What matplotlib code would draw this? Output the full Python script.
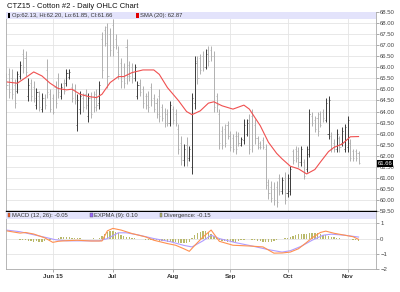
import numpy as np
import matplotlib.pyplot as plt
import matplotlib.transforms as mtransforms
from matplotlib.patches import Rectangle

plt.rcParams['font.family'] = ['Liberation Sans', 'DejaVu Sans']

# OHLC hodnoty
opens = [65.60, 65.70, 65.50, 65.20, 64.95, 65.60, 66.60, 66.40, 64.70, 65.30,
         65.10, 64.30, 64.70, 64.10, 64.60, 65.90, 64.80, 64.60, 65.10, 65.50,
         64.70, 65.30, 65.30, 65.55, 65.10, 65.00, 63.40, 64.10, 64.60, 64.80,
         63.80, 64.60, 64.70, 64.80, 64.40, 67.30, 67.70, 67.80, 67.50, 67.90,
         67.30, 66.70, 66.20, 66.00, 66.90, 66.10, 66.00, 65.50, 64.70, 65.30,
         65.00, 64.70, 64.70, 65.10, 64.60, 64.40, 64.70, 64.20, 64.00, 63.90,
         63.50, 64.10, 63.90, 63.20, 62.60, 61.80, 62.50, 61.90, 61.50, 64.40,
         66.30, 66.40, 66.50, 66.00, 66.80, 66.80, 66.50, 64.70, 63.90, 63.10,
         63.20, 63.40, 62.90, 62.80, 62.90, 62.90, 62.50, 62.70, 63.00, 63.60,
         63.80, 63.40, 62.80, 62.60, 62.70, 62.30, 60.80, 60.60, 60.50, 60.60,
         61.00, 60.40, 61.00, 60.30, 60.40, 62.20, 62.30, 62.20, 61.70, 61.70,
         61.40, 62.10, 63.80, 63.60, 63.70, 63.90, 64.00, 63.60, 63.00, 62.90,
         62.60, 62.30, 62.80, 62.60, 62.30, 62.40, 62.60, 62.20, 62.20, 62.13]
highs = [65.76, 65.98, 65.91, 65.46, 65.83, 66.28, 66.84, 66.74, 65.53, 65.46,
         65.38, 65.08, 64.93, 64.86, 64.78, 66.36, 65.01, 64.78, 65.38, 65.76,
         65.31, 65.46, 65.91, 65.91, 65.31, 65.23, 64.78, 64.93, 64.86, 65.01,
         64.86, 64.90, 64.93, 65.01, 65.38, 67.60, 67.86, 68.01, 67.79, 68.16,
         67.49, 66.96, 66.44, 66.21, 67.26, 66.28, 66.21, 66.13, 65.38, 65.46,
         65.16, 64.86, 64.93, 65.31, 64.78, 64.63, 65.01, 64.33, 64.18, 64.11,
         64.48, 64.26, 64.11, 63.43, 62.90, 62.53, 62.83, 62.46, 64.86, 66.51,
         66.51, 66.58, 66.74, 66.81, 66.96, 66.96, 66.74, 64.86, 64.11, 63.36,
         63.43, 63.58, 63.13, 62.98, 63.13, 63.06, 62.83, 63.66, 63.66, 63.88,
         64.11, 63.66, 62.91, 62.68, 62.83, 62.53, 60.96, 60.88, 60.81, 60.88,
         61.18, 61.03, 61.26, 61.18, 61.56, 62.31, 62.46, 62.38, 62.46, 61.86,
         62.46, 64.11, 63.96, 63.81, 63.96, 64.03, 64.11, 64.63, 64.71, 63.06,
         62.76, 63.21, 62.91, 63.28, 63.43, 63.81, 62.76, 62.31, 62.31, 62.20]
lows = [65.01, 64.63, 64.56, 64.18, 64.86, 65.46, 65.76, 65.61, 64.48, 64.48,
        64.41, 64.11, 64.03, 63.96, 64.11, 64.63, 63.96, 63.88, 64.18, 64.63,
        64.56, 64.78, 65.16, 65.46, 64.41, 64.33, 63.13, 63.88, 63.96, 64.11,
        63.51, 63.70, 63.96, 64.03, 64.11, 65.50, 66.96, 65.08, 66.51, 66.51,
        66.81, 65.46, 65.08, 65.08, 65.23, 65.38, 65.31, 65.38, 64.56, 64.71,
        64.18, 64.11, 63.96, 64.26, 63.96, 63.73, 63.51, 63.58, 63.28, 63.36,
        63.36, 63.43, 63.36, 62.08, 61.60, 61.56, 61.56, 61.78, 61.18, 64.11,
        65.23, 65.68, 65.83, 65.91, 66.06, 66.28, 63.96, 63.96, 62.31, 62.31,
        62.38, 62.76, 62.23, 62.16, 62.08, 62.46, 62.46, 62.53, 62.91, 62.08,
        62.16, 62.53, 62.31, 62.31, 62.31, 60.51, 60.06, 59.91, 59.76, 59.68,
        60.21, 60.28, 59.83, 60.13, 60.21, 61.63, 61.71, 61.48, 61.56, 60.96,
        61.26, 61.93, 63.36, 63.06, 62.91, 63.28, 63.51, 63.51, 62.76, 62.16,
        62.16, 62.16, 62.16, 62.46, 62.16, 62.16, 61.78, 61.78, 61.78, 61.65]
closes = [65.20, 64.90, 64.80, 64.40, 65.70, 66.10, 66.00, 65.80, 65.20, 64.70,
          64.60, 64.90, 64.20, 64.60, 64.30, 64.90, 64.10, 64.00, 64.40, 64.90,
          65.10, 64.95, 65.75, 65.80, 64.60, 64.50, 64.50, 64.70, 64.20, 64.30,
          64.60, 63.90, 64.20, 64.30, 65.20, 65.90, 67.10, 65.60, 66.80, 66.90,
          67.00, 65.70, 65.40, 65.30, 65.60, 65.60, 65.50, 66.00, 65.20, 64.90,
          64.40, 64.30, 64.20, 64.50, 64.10, 63.90, 63.80, 63.70, 63.50, 63.50,
          64.30, 63.60, 63.50, 62.30, 61.80, 62.30, 61.80, 62.30, 64.60, 66.20,
          65.50, 65.90, 66.00, 66.60, 66.30, 66.50, 64.20, 64.30, 62.60, 62.50,
          62.60, 62.90, 62.40, 62.30, 62.30, 62.60, 62.75, 63.40, 63.50, 62.30,
          62.50, 62.80, 62.40, 62.40, 62.40, 60.70, 60.30, 60.10, 60.00, 59.90,
          60.40, 60.90, 60.00, 61.00, 61.40, 61.80, 61.90, 61.70, 62.30, 61.10,
          62.30, 63.90, 63.50, 63.20, 63.10, 63.40, 63.70, 64.40, 64.50, 62.30,
          62.30, 63.00, 62.40, 63.10, 63.30, 63.60, 61.90, 61.90, 61.90, 61.66]

# SMA (20) - body odečtené z křivky
sma_x = [0, 4, 7, 10, 13, 16, 19, 22, 24, 27, 30, 33, 35, 38, 41, 43, 46, 50, 54,
         56, 59, 63, 66, 68, 71, 74, 76, 79, 83, 87, 89, 93, 96, 99, 101, 104, 107,
         110, 113, 115, 118, 120, 123, 126, 129]
sma_y = [65.34, 65.28, 65.53, 65.79, 65.61, 65.28, 65.04, 64.98, 65.01, 64.78,
         64.68, 64.63, 64.78, 65.31, 65.58, 65.58, 65.76, 65.88, 65.88, 65.68,
         65.08, 64.50, 64.00, 63.86, 64.03, 64.38, 64.44, 64.26, 64.11, 64.29,
         64.11, 63.36, 62.61, 62.11, 61.86, 61.53, 61.41, 61.18, 61.38, 61.71,
         62.19, 62.38, 62.53, 62.86, 62.87]

# MACD (12, 26) a EXPMA (9)
macd_x = [0, 3, 5, 7, 10, 14, 17, 19, 22, 26, 31, 35, 37, 39, 42, 46, 51, 54,
          59, 62, 65, 67, 69, 72, 75, 78, 83, 89, 94, 98, 101, 104, 107, 110,
          112, 115, 117, 120, 124, 127, 129]
macd_y = [0.51, 0.42, 0.36, 0.40, 0.30, 0.05, -0.25, -0.18, -0.14, -0.11, -0.16,
          -0.16, 0.51, 0.67, 0.56, 0.33, 0.11, -0.11, -0.33, -0.44, -0.67, -0.84,
          -0.45, 0.10, 0.56, -0.18, -0.44, -0.49, -0.55, -0.96, -0.95, -0.89,
          -0.67, -0.25, 0.05, 0.40, 0.49, 0.35, 0.22, 0.12, -0.05]
sig_x = [0, 5, 10, 15, 18, 22, 28, 34, 37, 41, 44, 48, 54, 60, 65, 68, 72, 75,
         78, 84, 90, 96, 101, 104, 108, 112, 116, 119, 124, 129]
sig_y = [0.56, 0.45, 0.25, 0.05, -0.08, -0.15, -0.15, -0.15, 0.0, 0.38, 0.38,
         0.25, 0.0, -0.20, -0.45, -0.55, -0.15, 0.22, 0.0, -0.27, -0.49, -0.73,
         -0.89, -0.80, -0.51, -0.11, 0.22, 0.29, 0.22, 0.10]
divergence = [-0.02, -0.05, -0.03, -0.06, -0.05, -0.08, -0.12, -0.10, -0.14, -0.18,
              -0.20, -0.18, -0.22, -0.20, -0.16, -0.12, -0.10, -0.06, -0.02, 0.04,
              0.08, 0.10, 0.12, 0.10, 0.06, 0.04, 0.03, 0.02, 0.00, -0.02,
              -0.02, 0.00, 0.02, 0.00, 0.05, 0.18, 0.30, 0.42, 0.50, 0.48,
              0.40, 0.34, 0.26, 0.18, 0.12, 0.08, 0.05, 0.02, -0.02, -0.05,
              -0.06, -0.08, -0.10, -0.10, -0.12, -0.12, -0.14, -0.15, -0.18, -0.20,
              -0.20, -0.22, -0.25, -0.28, -0.30, -0.32, -0.30, -0.20, 0.05, 0.25,
              0.38, 0.45, 0.50, 0.48, 0.40, 0.30, 0.15, 0.02, -0.10, -0.15,
              -0.18, -0.20, -0.20, -0.22, -0.20, -0.18, -0.12, -0.08, -0.05, -0.06,
              -0.08, -0.10, -0.14, -0.18, -0.22, -0.25, -0.24, -0.20, -0.15, -0.10,
              -0.06, -0.02, 0.02, 0.05, 0.10, 0.18, 0.26, 0.30, 0.32, 0.30,
              0.33, 0.36, 0.38, 0.36, 0.34, 0.30, 0.26, 0.22, 0.18, 0.12,
              0.08, 0.05, 0.02, 0.00, 0.00, -0.02, -0.05, -0.08, -0.12, -0.15]

month_pos = [17, 39, 61, 82, 103, 125]
month_lab = ['Jun 15', 'Jul', 'Aug', 'Sep', 'Oct', 'Nov']
price_ticks = np.arange(59.5, 68.51, 0.5)
macd_ticks = [1, 0, -1, -2]

x = np.arange(len(closes))
o = np.array(opens)
c = np.array(closes)
up = c >= o
bar_col = np.where(up, '#3a3a3a', '#b0b0b0')

fig = plt.figure(figsize=(4.0, 2.92), dpi=100)
ax = fig.add_axes([0.014, 0.277, 0.926, 0.682])
ax2 = fig.add_axes([0.014, 0.079, 0.926, 0.195])

# Cenový panel
ax.vlines(x, lows, highs, colors=bar_col, lw=0.7)
ax.hlines(opens, x - 0.4, x, colors=bar_col, lw=0.5)
ax.hlines(closes, x, x + 0.4, colors=bar_col, lw=0.5)
ax.plot(sma_x, sma_y, color='#f05050', lw=0.8)

ax.set_xlim(-0.3, 135.4)
ax.set_ylim(59.5, 68.5)
ax.set_yticks(price_ticks)
ax.set_yticklabels(['%.2f' % t for t in price_ticks])
ax.set_xticks(month_pos)
ax.set_xticklabels([])
ax.tick_params(axis='x', length=0)
ax.yaxis.tick_right()
ax.tick_params(axis='y', length=2, width=0.5, color='#888888',
               labelsize=4.3, labelcolor='#444444', pad=1)
ax.grid(True, color='#e4e4e4', lw=0.6)
ax.set_axisbelow(True)
for s in ax.spines.values():
    s.set_color('#aaaaaa')
    s.set_linewidth(0.6)
ax.spines['bottom'].set_color('black')
ax.spines['bottom'].set_linewidth(1.0)

ax.add_patch(Rectangle((0, 0.964), 1, 0.036, transform=ax.transAxes,
                       facecolor='#e3e3fb', edgecolor='none', zorder=3))
ax.add_patch(Rectangle((0.006, 0.970), 0.007, 0.024, transform=ax.transAxes,
                       facecolor='black', edgecolor='none', zorder=4))
ax.text(0.017, 0.982, 'Op:62.13, Hi:62.20, Lo:61.85, Cl:61.66', transform=ax.transAxes,
        fontsize=4.2, va='center', color='#333333', zorder=4)
ax.add_patch(Rectangle((0.352, 0.970), 0.007, 0.024, transform=ax.transAxes,
                       facecolor='#e00000', edgecolor='none', zorder=4))
ax.text(0.363, 0.982, 'SMA (20): 62.87', transform=ax.transAxes,
        fontsize=4.2, va='center', color='#333333', zorder=4)

tr = mtransforms.blended_transform_factory(ax.transAxes, ax.transData)
ax.text(1.004, c[-1], '%.2f' % c[-1], transform=tr, fontsize=4.3, color='white',
        va='center', ha='left',
        bbox=dict(boxstyle='square,pad=0.15', facecolor='black', edgecolor='none'))

fig.text(0.018, 0.979, 'CTZ15 - Cotton #2 - Daily OHLC Chart', fontsize=5.5,
         va='center', color='#111111')

# MACD panel
ax2.bar(x, divergence, width=0.5, color='#b9b96a', edgecolor='none')
ax2.plot(sig_x, sig_y, color='#b09cff', lw=0.8)
ax2.plot(macd_x, macd_y, color='#ff9050', lw=0.8)
ax2.set_xlim(-0.3, 135.4)
ax2.set_ylim(-2, 1.75)
ax2.set_yticks(macd_ticks)
ax2.set_yticklabels(['1', '0', '\u22121', '\u22122'])
ax2.yaxis.tick_right()
ax2.tick_params(axis='y', length=2, width=0.5, color='#888888',
                labelsize=4.3, labelcolor='#444444', pad=1)
ax2.set_xticks(month_pos)
ax2.set_xticklabels(month_lab, fontweight='bold')
ax2.tick_params(axis='x', length=2, width=0.5, color='#888888',
                labelsize=4.5, labelcolor='#333333', pad=2)
ax2.grid(True, color='#e4e4e4', lw=0.6)
ax2.set_axisbelow(True)
for s in ax2.spines.values():
    s.set_color('#aaaaaa')
    s.set_linewidth(0.6)
ax2.spines['top'].set_visible(False)

ax2.add_patch(Rectangle((0, 0.88), 1, 0.12, transform=ax2.transAxes,
                        facecolor='#e3e3fb', edgecolor='none', zorder=3))
legend2 = [(0.006, '#ff5a1e', 'MACD (12, 26): -0.05'),
           (0.228, '#9966ff', 'EXPMA (9): 0.10'),
           (0.416, '#b5b56a', 'Divergence: -0.15')]
for lx, col, txt in legend2:
    ax2.add_patch(Rectangle((lx, 0.905), 0.007, 0.075, transform=ax2.transAxes,
                            facecolor=col, edgecolor='#555555', lw=0.3, zorder=4))
    ax2.text(lx + 0.011, 0.94, txt, transform=ax2.transAxes, fontsize=4.2,
             va='center', color='#333333', zorder=4)

fig.savefig('out.png', dpi=100)
